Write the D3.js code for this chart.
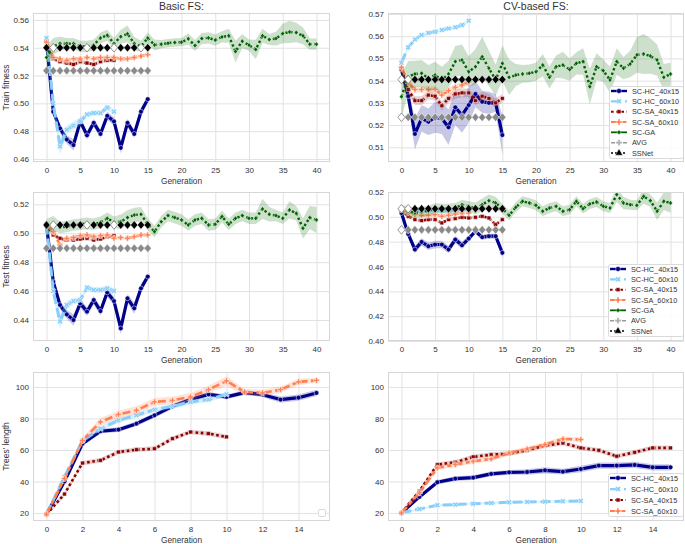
<!DOCTYPE html>
<html><head><meta charset="utf-8">
<script src="https://cdn.jsdelivr.net/npm/d3@7"></script>
<style>body{margin:0;background:#fff}svg{display:block}text{font-family:"Liberation Sans",Arial,sans-serif}</style>
</head><body><svg id="c" width="685" height="544"></svg>
<script>
// ---------- DATA ----------
const seriesNames = ['SC-HC_40x15','SC-HC_60x10','SC-SA_40x15','SC-SA_60x10','SC-GA','AVG','SSNet'];
const fitTicksTrainBasic = [0.46,0.48,0.50,0.52,0.54,0.56];
const fitTicksTrainCV = [0.51,0.52,0.53,0.54,0.55,0.56,0.57];
const fitTicksTestBasic = [0.44,0.46,0.48,0.50,0.52];
const fitTicksTestCV = [0.40,0.42,0.44,0.46,0.48,0.50,0.52];
const lenTicks = [20,40,60,80,100];
const genTicks40 = [0,5,10,15,20,25,30,35,40];
const genTicks15 = [0,2,4,6,8,10,12,14];

// Basic FS - train fitness
const hc40_trB = [0.545,0.494,0.482,0.474,0.470,0.487,0.477,0.486,0.478,0.491,0.487,0.468,0.486,0.478,0.494,0.503];
const hc40_trB_ci = [0.002,0.003,0.003,0.003,0.004,0.003,0.003,0.003,0.003,0.003,0.003,0.004,0.003,0.003,0.003,0.002];
const hc60_trB = [0.547,0.500,0.469,0.481,0.484,0.487,0.492,0.493,0.493,0.497,0.494];
const hc60_trB_ci = [0.002,0.004,0.006,0.003,0.003,0.003,0.002,0.002,0.002,0.002,0.002];
const sa40_trB = [0.541,0.532,0.530,0.529,0.528,0.530,0.529,0.528,0.530,0.531,0.531];
const sa60_trB = [0.544,0.533,0.532,0.531,0.532,0.532,0.533,0.532,0.533,0.533,0.533,0.532,0.532,0.533,0.534,0.535];
const ga_trB = [0.533,0.541,0.543,0.543,0.543,0.541,0.541,0.542,0.547,0.549,0.543,0.548,0.550,0.543,0.541,0.547,0.542,0.5426,0.5433,0.5438,0.544,0.5464,0.5416,0.5466,0.5471,0.5455,0.5478,0.5486,0.5373,0.5447,0.5419,0.5388,0.5486,0.5459,0.5466,0.5502,0.5514,0.5509,0.5486,0.5426,0.5426];
const ga_trB_ci = [0.008,0.006,0.005,0.004,0.004,0.004,0.004,0.004,0.004,0.004,0.004,0.005,0.006,0.005,0.004,0.004,0.004,0.003,0.003,0.003,0.003,0.004,0.004,0.004,0.004,0.004,0.004,0.005,0.008,0.005,0.004,0.007,0.005,0.004,0.005,0.007,0.008,0.007,0.006,0.004,0.004];
const avg_trB = [0.5235,0.5235,0.5235,0.5235,0.5235,0.5235,0.5235,0.5235,0.5235,0.5235,0.5235,0.5235,0.5235,0.5235,0.5235,0.5235];
const ssn_trB = [0.540,0.540,0.540,0.540,0.540,0.540,0.540,0.540,0.540,0.540,0.540,0.540,0.540,0.540,0.540,0.540];

// CV-based FS - train fitness
const hc40_trC = [0.545,0.533,0.516,0.523,0.5215,0.5235,0.523,0.519,0.528,0.5245,0.529,0.534,0.5305,0.530,0.530,0.5155];
const hc40_trC_ci = [0.002,0.004,0.007,0.006,0.006,0.007,0.007,0.008,0.008,0.008,0.008,0.006,0.005,0.005,0.004,0.009];
const hc60_trC = [0.548,0.555,0.5585,0.5605,0.5615,0.562,0.5628,0.5635,0.564,0.565,0.567];
const sa40_trC = [0.545,0.536,0.531,0.531,0.5335,0.533,0.5287,0.532,0.534,0.5345,0.5345,0.531,0.533,0.532,0.530,0.532];
const sa60_trC = [0.546,0.539,0.536,0.536,0.536,0.536,0.5335,0.5355,0.537,0.538,0.5395];
const ga_trC = [0.5328,0.5418,0.543,0.5433,0.541,0.5425,0.5403,0.543,0.5486,0.5493,0.544,0.5463,0.5508,0.5456,0.5403,0.5478,0.5415,0.5425,0.543,0.5433,0.544,0.547,0.5415,0.5463,0.547,0.545,0.5478,0.5486,0.5373,0.5463,0.5445,0.5403,0.5486,0.5456,0.5475,0.5516,0.552,0.5511,0.5493,0.5415,0.543];
const ga_trC_ci = [0.01,0.007,0.006,0.006,0.006,0.006,0.006,0.006,0.007,0.007,0.007,0.008,0.009,0.008,0.007,0.008,0.008,0.005,0.004,0.004,0.004,0.005,0.005,0.005,0.006,0.005,0.005,0.006,0.008,0.006,0.005,0.006,0.006,0.005,0.006,0.008,0.009,0.008,0.007,0.006,0.005];
const avg_trC = [0.5235,0.5235,0.5235,0.5235,0.5235,0.5235,0.5235,0.5235,0.5235,0.5235,0.5235,0.5235,0.5235,0.5235,0.5235,0.5235];
const ssn_trC = [0.5405,0.5405,0.5405,0.5405,0.5405,0.5405,0.5405,0.5405,0.5405,0.5405,0.5405,0.5405,0.5405,0.5405,0.5405,0.5405];

// Basic FS - test fitness
const hc40_teB = [0.5057,0.4665,0.4504,0.4439,0.440,0.4515,0.4458,0.4538,0.4462,0.4591,0.4531,0.4342,0.455,0.4481,0.4619,0.470];
const hc40_teB_ci = [0.001,0.003,0.003,0.003,0.004,0.003,0.003,0.003,0.003,0.003,0.003,0.004,0.003,0.004,0.003,0.002];
const hc60_teB = [0.506,0.460,0.439,0.4504,0.4531,0.4538,0.4624,0.4608,0.4608,0.4619,0.4601];
const hc60_teB_ci = [0.001,0.004,0.005,0.003,0.002,0.002,0.002,0.002,0.002,0.002,0.002];
const sa40_teB = [0.506,0.4988,0.4965,0.4953,0.4953,0.496,0.4965,0.4953,0.496,0.4976,0.4983];
const sa60_teB = [0.506,0.501,0.4919,0.4965,0.497,0.4983,0.4988,0.4976,0.4983,0.4988,0.4965,0.497,0.4965,0.4976,0.4988,0.4988];
const ga_teB = [0.5039,0.5069,0.5039,0.5046,0.5057,0.5062,0.5069,0.5062,0.5076,0.5103,0.5076,0.508,0.5108,0.5126,0.5131,0.5062,0.5011,0.508,0.5122,0.5108,0.5092,0.5057,0.5092,0.5103,0.5057,0.5062,0.5115,0.5062,0.5103,0.5122,0.5103,0.5103,0.5168,0.5131,0.5122,0.5103,0.5161,0.5138,0.5034,0.5108,0.5092];
const ga_teB_ci = [0.006,0.005,0.004,0.004,0.004,0.004,0.004,0.004,0.004,0.004,0.004,0.005,0.005,0.005,0.005,0.004,0.004,0.004,0.004,0.004,0.004,0.004,0.004,0.004,0.004,0.004,0.004,0.004,0.004,0.004,0.004,0.004,0.007,0.005,0.004,0.004,0.006,0.005,0.007,0.008,0.009];
const avg_teB = [0.4896,0.4896,0.4896,0.4896,0.4896,0.4896,0.4896,0.4896,0.4896,0.4896,0.4896,0.4896,0.4896,0.4896,0.4896,0.4896];
const ssn_teB = [0.5057,0.5057,0.5057,0.5057,0.5057,0.5057,0.5057,0.5057,0.5057,0.5057,0.5057,0.5057,0.5057,0.5057,0.5057,0.5057];

// CV-based FS - test fitness
const hc40_teC = [0.5031,0.4862,0.4737,0.4798,0.4763,0.4777,0.4777,0.4737,0.4817,0.4771,0.4825,0.4884,0.4836,0.4844,0.4844,0.471];
const hc40_teC_ci = [0.001,0.002,0.003,0.003,0.003,0.003,0.003,0.003,0.003,0.003,0.002,0.002,0.002,0.002,0.002,0.004];
const hc60_teC = [0.5058,0.5045,0.5045,0.5045,0.5048,0.5048,0.505,0.505,0.5052,0.5052,0.5055];
const sa40_teC = [0.5058,0.5004,0.4978,0.497,0.4978,0.4978,0.4951,0.4978,0.4986,0.4996,0.4991,0.4996,0.5004,0.4991,0.4937,0.4978];
const sa60_teC = [0.5058,0.5031,0.5018,0.5012,0.5012,0.5018,0.5004,0.5012,0.5023,0.5031,0.5031];
const ga_teC = [0.5058,0.5045,0.5031,0.5039,0.505,0.5071,0.5066,0.5066,0.5071,0.5098,0.5085,0.5066,0.5098,0.513,0.5112,0.5066,0.5012,0.5077,0.5125,0.5112,0.5093,0.5045,0.5071,0.5085,0.5045,0.5058,0.5125,0.5066,0.5104,0.512,0.5085,0.5071,0.5179,0.5112,0.5098,0.5093,0.5165,0.513,0.5045,0.5125,0.5112];
const ga_teC_ci = [0.004,0.004,0.004,0.004,0.004,0.004,0.004,0.004,0.004,0.004,0.004,0.005,0.005,0.005,0.005,0.004,0.004,0.004,0.004,0.004,0.004,0.004,0.004,0.004,0.004,0.004,0.004,0.004,0.004,0.004,0.004,0.004,0.006,0.005,0.004,0.004,0.006,0.005,0.007,0.007,0.008];
const avg_teC = [0.4895,0.4895,0.4895,0.4895,0.4895,0.4895,0.4895,0.4895,0.4895,0.4895,0.4895,0.4895,0.4895,0.4895,0.4895,0.4895];
const ssn_teC = [0.5065,0.5065,0.5065,0.5065,0.5065,0.5065,0.5065,0.5065,0.5065,0.5065,0.5065,0.5065,0.5065,0.5065,0.5065,0.5065];

// Basic FS - trees' length
const hc40_lenB = [19.2,40,64,71.9,72.9,76.7,82,87.7,92,95.3,93.7,96.4,95.1,92,93.2,96.2];
const hc40_lenB_ci = [0.5,1.5,1.5,1.5,1.5,1.5,1.5,1.5,1.5,1.5,1.5,1.5,1.5,2,2,2];
const hc60_lenB = [19.2,43,66,73.5,78.8,82,85.6,87.7,90.5,92,95.3];
const sa40_lenB = [19.2,32,51.7,53.4,58.7,60.2,60.8,67.2,71.4,70.4,68.3];
const sa60_lenB = [19.2,41.8,66,77.8,82.6,85.2,90.5,91.5,93.7,98.3,103.8,96.8,96.2,98.3,103.2,104.2];
const sa60_lenB_ci = [0.5,2,2,2.5,2.5,2.5,2.5,2.5,2.5,2.5,3,2,2,2,2,1.5];

// CV-based FS - trees' length
const hc40_lenC = [20,30.2,39.5,41.8,42.4,44.8,45.8,46,47.1,46.2,47.9,50.1,50.1,50.5,49,49];
const hc40_lenC_ci = [0.3,1,1.5,1.5,1.5,1.5,1.5,1.8,2,1.8,2,2,2,2,2,2];
const hc60_lenC = [20,22.5,24.9,25.3,25.9,26.3,26.8,27,27.2,27.4,27.6];
const sa40_lenC = [20,33.8,50.7,52.2,55.6,57,57.7,59.8,62.8,64.4,61.3,59.8,56,58.5,61.3,61.3];
const sa60_lenC = [20,32.7,48.6,50.7,52.8,54.3,58.1,60.6,63.4,67,66.6];

// ---------- STYLE ----------
const styles = {
  'SC-HC_40x15': {color:'#00008b', dash:null, lw:3.2, mk:'circle', alpha:0.22},
  'SC-HC_60x10': {color:'#87cefa', dash:'10,4', lw:3, mk:'x', alpha:0.3},
  'SC-SA_40x15': {color:'#8b0000', dash:'2.6,2.6', lw:2.6, mk:'square', alpha:0.18},
  'SC-SA_60x10': {color:'#ff7f50', dash:'8,3.4,4,3.4', lw:2.6, mk:'plus', alpha:0.22},
  'SC-GA':       {color:'#006400', dash:'2.4,2.4', lw:2.4, mk:'dsmall', alpha:0.2},
  'AVG':         {color:'#8a8a8a', dash:'4,2', lw:2, mk:'dlarge', alpha:0.2},
  'SSNet':       {color:'#000000', dash:'2,2', lw:2, mk:'dlarge', alpha:0.2}
};
function mkPath(t){
  switch(t){
    case 'circle': return d3.symbol(d3.symbolCircle,18)();
    case 'x': return d3.symbol(d3.symbolCross,19)();
    case 'square': return d3.symbol(d3.symbolSquare,15)();
    case 'plus': return d3.symbol(d3.symbolCross,19)();
    case 'dsmall': return 'M0,-2.5L2,0L0,2.5L-2,0Z';
    case 'dlarge': return 'M0,-4.3L3.6,0L0,4.3L-3.6,0Z';
    case 'tri': return d3.symbol(d3.symbolTriangle,24)();
  }
}
const S = (key, vals, ci, hollow) => ({key, vals, ci, hollow});

const panels = [
  {x0:33,x1:330,y0:13,y1:162, xd:[-2,42], yd:[0.4578,0.565], yt:fitTicksTrainBasic, xt:genTicks40, fmt:'.2f',
   title:'Basic FS:', ylabel:'Train fitness',
   series:[S('SC-HC_40x15',hc40_trB,hc40_trB_ci),S('SC-HC_60x10',hc60_trB,hc60_trB_ci),S('SC-SA_40x15',sa40_trB,0.0015),
           S('SC-SA_60x10',sa60_trB,0.0015),S('SC-GA',ga_trB,ga_trB_ci),S('AVG',avg_trB,0),S('SSNet',ssn_trB,0,[1,6,10,14])]},
  {x0:388,x1:684,y0:13,y1:162, xd:[-2,42], yd:[0.50338,0.57045], yt:fitTicksTrainCV, xt:genTicks40, fmt:'.2f',
   title:'CV-based FS:', legend:{x:609,y:86,w:74,h:72,n:7},
   series:[S('SC-HC_40x15',hc40_trC,hc40_trC_ci),S('SC-HC_60x10',hc60_trC,0.0008),S('SC-SA_40x15',sa40_trC,0.002),
           S('SC-SA_60x10',sa60_trC,0.0015),S('SC-GA',ga_trC,ga_trC_ci),S('AVG',avg_trC,0,[0]),S('SSNet',ssn_trC,0,[0,1])]},
  {x0:33,x1:330,y0:192,y1:341, xd:[-2,42], yd:[0.4255,0.5285], yt:fitTicksTestBasic, xt:genTicks40, fmt:'.2f',
   ylabel:'Test fitness',
   series:[S('SC-HC_40x15',hc40_teB,hc40_teB_ci),S('SC-HC_60x10',hc60_teB,hc60_teB_ci),S('SC-SA_40x15',sa40_teB,0.0012),
           S('SC-SA_60x10',sa60_teB,0.0012),S('SC-GA',ga_teB,ga_teB_ci),S('AVG',avg_teB,0),S('SSNet',ssn_teB,0,[1,6,10])]},
  {x0:388,x1:684,y0:192,y1:341, xd:[-2,42], yd:[0.40,0.52], yt:fitTicksTestCV, xt:genTicks40, fmt:'.2f',
   legend:{x:608,y:264,w:75,h:72,n:7},
   series:[S('SC-HC_40x15',hc40_teC,hc40_teC_ci),S('SC-HC_60x10',hc60_teC,0.0008),S('SC-SA_40x15',sa40_teC,0.0012),
           S('SC-SA_60x10',sa60_teC,0.0012),S('SC-GA',ga_teC,ga_teC_ci),S('AVG',avg_teC,0,[0]),S('SSNet',ssn_teC,0,[0,1])]},
  {x0:33,x1:330,y0:372,y1:521, xd:[-0.75,15.75], yd:[14.9,109.5], yt:lenTicks, xt:genTicks15, fmt:'d',
   ylabel:"Trees' length", emptyLegend:true,
   series:[S('SC-HC_40x15',hc40_lenB,hc40_lenB_ci),S('SC-HC_60x10',hc60_lenB,1.5),S('SC-SA_40x15',sa40_lenB,1.5),
           S('SC-SA_60x10',sa60_lenB,sa60_lenB_ci)]},
  {x0:388,x1:684,y0:372,y1:521, xd:[-0.75,15.75], yd:[14.9,109.5], yt:lenTicks, xt:genTicks15, fmt:'d',
   legend:{x:608,y:473,w:75,h:43,n:4},
   series:[S('SC-HC_40x15',hc40_lenC,hc40_lenC_ci),S('SC-HC_60x10',hc60_lenC,0.6),S('SC-SA_40x15',sa40_lenC,1.5),
           S('SC-SA_60x10',sa60_lenC,1.5)]}
];

// ---------- DRAW ----------
const svg = d3.select('#c');
const TXT = '#333';
const GRID = '#e2e2e2';

panels.forEach((p,pi)=>{
  const g = svg.append('g');
  const x = d3.scaleLinear().domain(p.xd).range([p.x0,p.x1]);
  const y = d3.scaleLinear().domain(p.yd).range([p.y1,p.y0]);
  const W = p.x1-p.x0, H = p.y1-p.y0;
  g.append('rect').attr('x',p.x0).attr('y',p.y0).attr('width',W).attr('height',H).attr('fill','#fff');

  const xa = g.append('g').attr('transform',`translate(0,${p.y1})`)
    .call(d3.axisBottom(x).tickValues(p.xt).tickSize(-H).tickPadding(5).tickFormat(d3.format('d')));
  const ya = g.append('g').attr('transform',`translate(${p.x0},0)`)
    .call(d3.axisLeft(y).tickValues(p.yt).tickSize(-W).tickPadding(4).tickFormat(d3.format(p.fmt)));
  [xa,ya].forEach(a=>{
    a.select('.domain').remove();
    a.selectAll('line').attr('stroke',GRID).attr('stroke-width',1);
    a.selectAll('text').attr('fill',TXT).style('font-size','8px');
  });

  const cid = 'clip'+pi;
  g.append('clipPath').attr('id',cid).append('rect').attr('x',p.x0).attr('y',p.y0).attr('width',W).attr('height',H);
  const plot = g.append('g').attr('clip-path',`url(#${cid})`);

  p.series.forEach(s=>{
    const st = styles[s.key];
    const pts = s.vals.map((v,k)=>({g:k, v, c: Array.isArray(s.ci)? s.ci[k] : s.ci}));
    if (s.ci) {
      plot.append('path').datum(pts)
        .attr('d', d3.area().x(d=>x(d.g)).y0(d=>y(d.v-d.c)).y1(d=>y(d.v+d.c)))
        .attr('fill', st.color).attr('fill-opacity', st.alpha).attr('stroke','none');
    }
    plot.append('path').datum(pts)
      .attr('d', d3.line().x(d=>x(d.g)).y(d=>y(d.v)))
      .attr('fill','none').attr('stroke',st.color).attr('stroke-width',st.lw)
      .attr('stroke-dasharray', st.dash).attr('stroke-linejoin','round');
    const hollow = s.hollow || [];
    plot.selectAll(null).data(pts).enter().append('path')
      .attr('d', mkPath(st.mk))
      .attr('transform', d=>`translate(${x(d.g)},${y(d.v)})` + (st.mk==='x'?' rotate(45)':''))
      .attr('fill', d=> hollow.includes(d.g) ? '#fff' : st.color)
      .attr('stroke', d=> hollow.includes(d.g) ? '#8a8a8a' : '#fff')
      .attr('stroke-width', d=> hollow.includes(d.g) ? 0.9 : 0.5);
  });

  // frame
  g.append('rect').attr('x',p.x0+0.5).attr('y',p.y0+0.5).attr('width',W-1).attr('height',H-1)
    .attr('fill','none').attr('stroke','#d6d6d6').attr('stroke-width',1);

  // labels
  const cx = (p.x0+p.x1)/2;
  g.append('text').attr('x',cx).attr('y',p.y1+22).attr('text-anchor','middle')
    .attr('fill',TXT).style('font-size','8.3px').text('Generation');
  if (p.title) g.append('text').attr('x',cx).attr('y',9.5).attr('text-anchor','middle')
    .attr('fill',TXT).style('font-size','10.5px').text(p.title);
  if (p.ylabel) g.append('text').attr('transform',`translate(8.5,${(p.y0+p.y1)/2}) rotate(-90)`)
    .attr('text-anchor','middle').attr('fill',TXT).style('font-size','8.5px').text(p.ylabel);

  if (p.legend) {
    const L = p.legend;
    const lg = g.append('g');
    lg.append('rect').attr('x',L.x+0.5).attr('y',L.y+0.5).attr('width',L.w).attr('height',L.h).attr('rx',2)
      .attr('fill','#fff').attr('fill-opacity',0.85).attr('stroke','#d0d0d0').attr('stroke-width',0.8);
    seriesNames.slice(0,L.n).forEach((nm,k)=>{
      const st = styles[nm];
      const ry = L.y + 5 + k*(L.h-10)/(L.n-1);
      lg.append('line').attr('x1',L.x+2).attr('x2',L.x+18).attr('y1',ry).attr('y2',ry)
        .attr('stroke',nm==='AVG'?'#9a9a9a':st.color).attr('stroke-width',st.lw*0.75).attr('stroke-dasharray',st.dash ? (nm==='SC-GA'?null:st.dash) : null);
      let mk = st.mk; if (nm==='SSNet') mk='tri';
      lg.append('path').attr('d', nm==='AVG' ? d3.symbol(d3.symbolCross,22)() : (mk==='dlarge' ? 'M0,-3L2.5,0L0,3L-2.5,0Z' : mkPath(mk)))
        .attr('transform',`translate(${L.x+10},${ry})` + (mk==='x'?' rotate(45)':''))
        .attr('fill', nm==='AVG' ? '#b0b0b0' : st.color).attr('stroke','#fff').attr('stroke-width',0.4);
      lg.append('text').attr('x',L.x+23).attr('y',ry).attr('dy','0.35em')
        .attr('fill',TXT).style('font-size','7.3px').text(nm);
    });
  }
  if (p.emptyLegend) {
    g.append('rect').attr('x',p.x1-11.5).attr('y',p.y1-11.5).attr('width',7).attr('height',7).attr('rx',1.5)
      .attr('fill','#fff').attr('stroke','#d0d0d0').attr('stroke-width',0.8);
  }
});
</script></body></html>
